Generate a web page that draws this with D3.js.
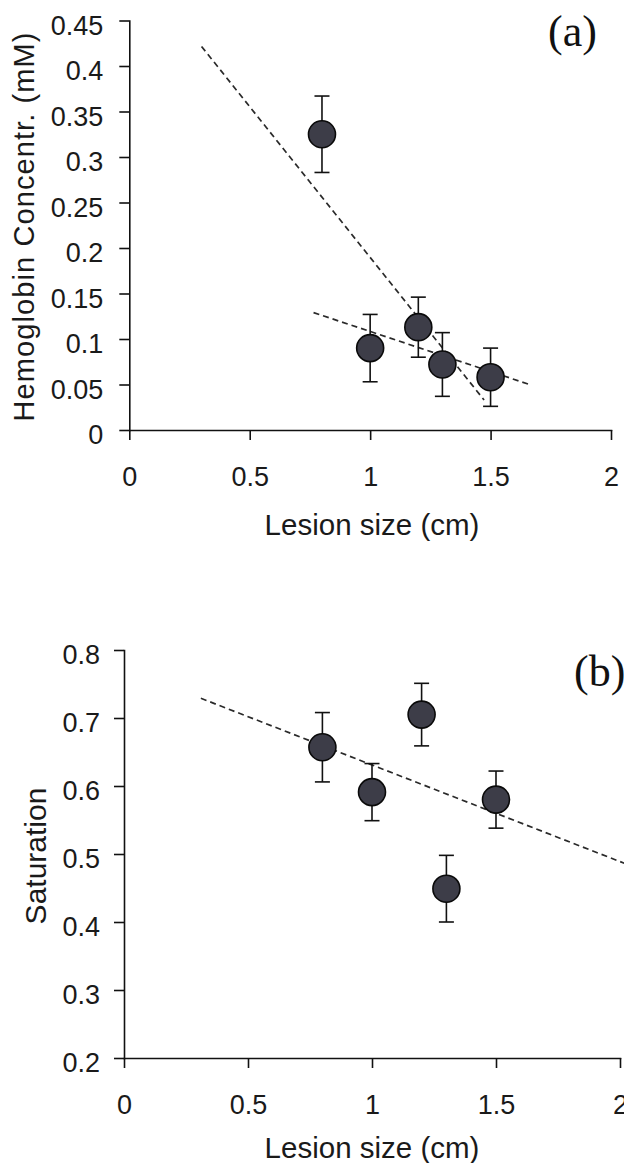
<!DOCTYPE html>
<html>
<head>
<meta charset="utf-8">
<script src="https://cdn.jsdelivr.net/npm/d3@7"></script>
<style>
  body { margin: 0; background: #fff; }
  .axis path, .axis line { stroke: #111; stroke-width: 1.6; }
  .axis text { font-family: "Liberation Sans", Arial, sans-serif; font-size: 27px; fill: #1a1a1a; }
  .title { font-family: "Liberation Sans", Arial, sans-serif; fill: #1a1a1a; }
  .tag { font-family: "Liberation Serif", "Times New Roman", serif; font-size: 44px; fill: #111; }
</style>
</head>
<body>
<div id="chart"></div>
<script>
// data
var lesionSize = [0.8, 1.0, 1.2, 1.3, 1.5];
var hemoglobin = [0.325, 0.090, 0.113, 0.072, 0.058];
var hemoglobinErr = [0.042, 0.037, 0.033, 0.035, 0.032];
var saturation = [0.657, 0.591, 0.705, 0.449, 0.580];
var saturationErr = [0.051, 0.042, 0.046, 0.049, 0.042];

// dashed fit lines, [x, y] end points
var hbFitSteep = [[0.30, 0.4215], [1.473, 0.033]];
var hbFitShallow = [[0.765, 0.129], [1.656, 0.0505]];
var satFit = [[0.31, 0.729], [2.02, 0.486]];

var xTicks = [0, 0.5, 1, 1.5, 2];
var hbTicks = [0, 0.05, 0.1, 0.15, 0.2, 0.25, 0.3, 0.35, 0.4, 0.45];
var satTicks = [0.2, 0.3, 0.4, 0.5, 0.6, 0.7, 0.8];

var svg = d3.select("#chart").append("svg")
    .attr("width", 624)
    .attr("height", 1163);

function drawPanel(p) {
    var x = d3.scaleLinear().domain([0, 2]).range(p.xRange);
    var y = d3.scaleLinear().domain(p.yDomain).range(p.yRange);
    var g = svg.append("g");

    // axes
    g.append("g")
        .attr("class", "axis")
        .attr("transform", "translate(0," + p.yRange[0] + ")")
        .call(d3.axisBottom(x).tickValues(xTicks).tickSize(10).tickSizeOuter(0)
            .tickPadding(27).tickFormat(function (d) { return String(d); }))
        .selectAll("text").attr("dy", "0.71em");

    g.append("g")
        .attr("class", "axis")
        .attr("transform", "translate(" + p.xRange[0] + ",0)")
        .call(d3.axisLeft(y).tickValues(p.yTicks).tickSize(10).tickSizeOuter(0)
            .tickPadding(p.yPad).tickFormat(function (d) { return String(d); }))
        .selectAll("text").attr("dy", "0.5em");

    g.selectAll(".domain").attr("stroke-linecap", "square");

    // fit lines
    var line = d3.line()
        .x(function (d) { return x(d[0]); })
        .y(function (d) { return y(d[1]); });

    p.fits.forEach(function (f) {
        g.append("path")
            .datum(f)
            .attr("d", line)
            .style("fill", "none")
            .style("stroke", "#2a2a2a")
            .style("stroke-width", 1.7)
            .style("stroke-dasharray", "6,4");
    });

    // error bars
    var pts = lesionSize.map(function (v, i) {
        return { x: v, y: p.values[i], e: p.errs[i] };
    });
    var cap = 7.5;

    var eb = g.selectAll("g.err").data(pts).enter().append("g").attr("class", "err")
        .style("stroke", "#111").style("stroke-width", 1.6);
    eb.append("line")
        .attr("x1", function (d) { return x(d.x); })
        .attr("x2", function (d) { return x(d.x); })
        .attr("y1", function (d) { return y(d.y + d.e); })
        .attr("y2", function (d) { return y(d.y - d.e); });
    eb.append("line")
        .attr("x1", function (d) { return x(d.x) - cap; })
        .attr("x2", function (d) { return x(d.x) + cap; })
        .attr("y1", function (d) { return y(d.y + d.e); })
        .attr("y2", function (d) { return y(d.y + d.e); });
    eb.append("line")
        .attr("x1", function (d) { return x(d.x) - cap; })
        .attr("x2", function (d) { return x(d.x) + cap; })
        .attr("y1", function (d) { return y(d.y - d.e); })
        .attr("y2", function (d) { return y(d.y - d.e); });

    g.selectAll("circle").data(pts).enter().append("circle")
        .attr("cx", function (d) { return x(d.x); })
        .attr("cy", function (d) { return y(d.y); })
        .attr("r", 13.5)
        .style("fill", "#3d3d48")
        .style("stroke", "#0a0a0a")
        .style("stroke-width", 1.6);

    // titles
    g.append("text")
        .attr("class", "title")
        .attr("x", 372)
        .attr("y", p.xTitleY)
        .attr("text-anchor", "middle")
        .style("font-size", "29.5px")
        .text("Lesion size (cm)");

    var yt = g.append("text")
        .attr("class", "title")
        .attr("transform", "translate(" + p.yTitleX + "," + p.yTitleY + ") rotate(-90)")
        .attr("text-anchor", "middle")
        .style("font-size", p.yTitleSize + "px")
        .text(p.yTitle);
    if (p.yTitleLen) yt.attr("textLength", p.yTitleLen).attr("lengthAdjust", "spacing");

    g.append("text")
        .attr("class", "tag")
        .attr("x", p.tagX)
        .attr("y", p.tagY)
        .text(p.tag);
}

drawPanel({
    xRange: [129.3, 611], yDomain: [0, 0.45], yRange: [430, 20.5],
    yTicks: hbTicks, yPad: 16,
    values: hemoglobin, errs: hemoglobinErr,
    fits: [hbFitSteep, hbFitShallow],
    xTitleY: 535,
    yTitle: "Hemoglobin Concentr. (mM)", yTitleX: 34, yTitleY: 227, yTitleSize: 29, yTitleLen: 389,
    tag: "(a)", tagX: 548, tagY: 46
});

drawPanel({
    xRange: [124, 620], yDomain: [0.2, 0.8], yRange: [1058, 650],
    yTicks: satTicks, yPad: 14,
    values: saturation, errs: saturationErr,
    fits: [satFit],
    xTitleY: 1158,
    yTitle: "Saturation", yTitleX: 46, yTitleY: 856, yTitleSize: 30,
    tag: "(b)", tagX: 574, tagY: 686
});
</script>
</body>
</html>
